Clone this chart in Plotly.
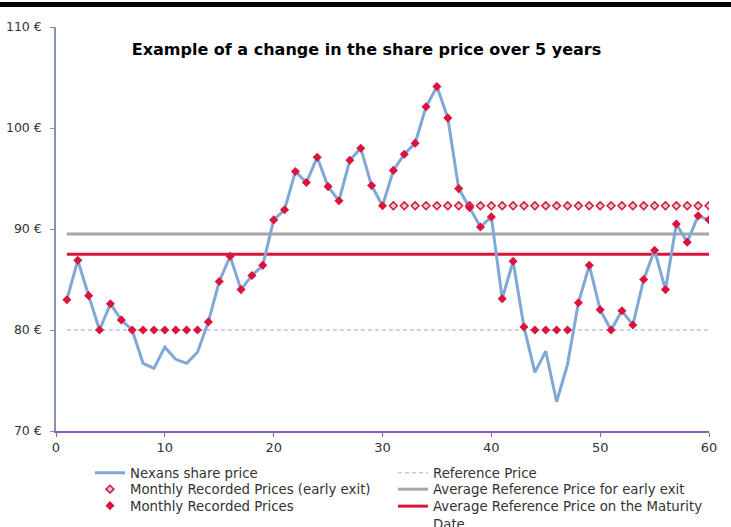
import plotly.graph_objects as go

months = list(range(1, 61))
share_price = [83.0, 86.9, 83.4, 80.0, 82.6, 81.0, 80.0, 76.7, 76.2, 78.3,
               77.1, 76.7, 77.8, 80.8, 84.8, 87.3, 84.0, 85.4, 86.4, 90.9,
               91.9, 95.7, 94.6, 97.1, 94.2, 92.8, 96.8, 98.0, 94.3, 92.3,
               95.8, 97.4, 98.5, 102.1, 104.1, 101.0, 94.0, 92.1, 90.2, 91.2,
               83.1, 86.8, 80.3, 75.8, 77.9, 72.9, 76.6, 82.7, 86.4, 82.0,
               80.0, 81.9, 80.5, 85.0, 87.9, 84.0, 90.5, 88.7, 91.3, 90.9]
recorded_prices = [83.0, 86.9, 83.4, 80.0, 82.6, 81.0, 80.0, 80.0, 80.0, 80.0,
                   80.0, 80.0, 80.0, 80.8, 84.8, 87.3, 84.0, 85.4, 86.4, 90.9,
                   91.9, 95.7, 94.6, 97.1, 94.2, 92.8, 96.8, 98.0, 94.3, 92.3,
                   95.8, 97.4, 98.5, 102.1, 104.1, 101.0, 94.0, 92.1, 90.2, 91.2,
                   83.1, 86.8, 80.3, 80.0, 80.0, 80.0, 80.0, 82.7, 86.4, 82.0,
                   80.0, 81.9, 80.5, 85.0, 87.9, 84.0, 90.5, 88.7, 91.3, 90.9]
early_exit_months = list(range(31, 61))
early_exit_prices = [92.3] * 30
line_span = [1, 60]
reference_price = [80.0, 80.0]
avg_early_exit = [89.5, 89.5]
avg_maturity = [87.5, 87.5]

y_ticks = [70, 80, 90, 100, 110]
y_tick_labels = ["70 €", "80 €", "90 €", "100 €", "110 €"]
x_ticks = [0, 10, 20, 30, 40, 50, 60]

RED = "#dc143c"
BLUE = "#7fa8d6"
GREY = "#a6a6a6"
REF = "#b9c4e3"
TXT = "#333333"

# plot area in pixels: left 56, right 709, top 27, bottom 431
PL, PW, PB, PH = 56, 653, 431, 404


def px_x(px):
    return (px - PL) / PW


def px_y(py):
    return (PB - py) / PH


fig = go.Figure()
fig.add_trace(go.Scatter(x=line_span, y=reference_price, mode="lines", name="Reference Price",
                         line=dict(color=REF, width=1.3, dash="4px,3px"), legend="legend4"))
fig.add_trace(go.Scatter(x=line_span, y=avg_early_exit, mode="lines", name="Average Reference Price for early exit",
                         line=dict(color=GREY, width=3), legend="legend5"))
fig.add_trace(go.Scatter(x=line_span, y=avg_maturity, mode="lines", name="Average Reference Price on the Maturity<br>Date",
                         line=dict(color=RED, width=3), legend="legend6"))
fig.add_trace(go.Scatter(x=months, y=share_price, mode="lines", name="Nexans share price",
                         line=dict(color=BLUE, width=3), legend="legend"))
fig.add_trace(go.Scatter(x=early_exit_months, y=early_exit_prices, mode="markers",
                         name="Monthly Recorded Prices (early exit)",
                         marker=dict(symbol="diamond", size=6, color="#d0d0d0", line=dict(color=RED, width=1.5)),
                         legend="legend2"))
fig.add_trace(go.Scatter(x=months, y=recorded_prices, mode="markers", name="Monthly Recorded Prices",
                         marker=dict(symbol="diamond", size=7, color=RED), legend="legend3"))

fig.add_shape(type="rect", xref="paper", yref="paper",
              x0=-0.2, x1=1.2, y0=px_y(7), y1=px_y(2),
              fillcolor="black", line=dict(width=0))

legend_font = dict(size=13.3, color=TXT, family="DejaVu Sans, Verdana, sans-serif")
row_y = [473, 489.5, 506]
col_x = [90, 393]


def leg(col, row):
    return dict(x=px_x(col_x[col]), y=px_y(row_y[row]), xanchor="left", yanchor="middle",
                orientation="v", font=legend_font, bgcolor="rgba(0,0,0,0)",
                borderwidth=0, tracegroupgap=0, itemwidth=30)


m6 = leg(1, 2)
m6["y"] = px_y(row_y[2] - 15)
m6["yanchor"] = "top"
m6["valign"] = "top"

fig.update_layout(
    width=731, height=527,
    margin=dict(l=PL, r=731 - PL - PW, t=PB - PH, b=527 - PB, autoexpand=False),
    paper_bgcolor="white", plot_bgcolor="white",
    font=dict(family="DejaVu Sans, Verdana, sans-serif", color=TXT, size=12),
    title=dict(text="<b>Example of a change in the share price over 5 years</b>",
               x=366.5 / 731, xanchor="center", y=1 - 49 / 527, yanchor="middle",
               font=dict(size=16, color="black")),
    showlegend=True,
    legend=leg(0, 0),
    legend2=leg(0, 1),
    legend3=leg(0, 2),
    legend4=leg(1, 0),
    legend5=leg(1, 1),
    legend6=m6,
    xaxis=dict(range=[0, 60], tickvals=x_ticks, showgrid=False, zeroline=False,
               showline=True, linecolor="#8e5cb8", linewidth=1.5,
               ticks="outside", ticklen=4, tickcolor="#8e5cb8",
               tickfont=dict(size=13, color=TXT)),
    yaxis=dict(range=[70, 110], tickvals=y_ticks, ticktext=y_tick_labels, showgrid=False,
               zeroline=False, showline=True, linecolor="#8593b0", linewidth=1.5,
               ticks="outside", ticklen=4, tickcolor="#8593b0", ticklabelstandoff=6,
               tickfont=dict(size=12.5, color=TXT)),
)

fig.write_html("out.html", config={"displayModeBar": False},
               post_script="document.body.style.margin='0px';")
